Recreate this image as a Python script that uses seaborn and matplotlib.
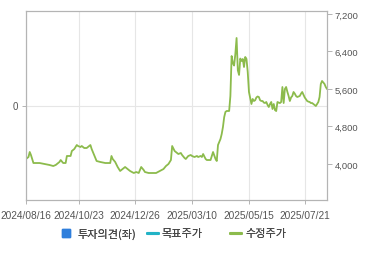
import matplotlib
matplotlib.use("Agg")
import matplotlib.pyplot as plt
import seaborn as sns
import pandas as pd
from matplotlib.patches import Patch
from matplotlib.lines import Line2D

# ---- data ----
tick_days = [0, 43, 88, 134, 180, 225]
tick_labels = ["2024/08/16", "2024/10/23", "2024/12/26", "2025/03/10", "2025/05/15", "2025/07/21"]
price_ticks = [4000, 4800, 5600, 6400, 7200]
legend_labels = ["투자의견(좌)", "목표주가", "수정주가"]

day = [0, 2, 3, 4, 6, 8, 11, 15, 19, 22, 24, 27, 28, 30, 32, 33, 36, 37, 39, 41,
       42, 44, 45, 47, 49, 50, 52, 53, 55, 57, 60, 64, 68, 69, 70, 72, 74, 76, 78, 80,
       82, 84, 87, 89, 91, 93, 95, 96, 99, 102, 105, 108, 111, 113, 115, 117, 118, 120, 121, 123,
       125, 126, 128, 129, 131, 133, 134, 136, 138, 139, 141, 142, 143, 145, 146, 149, 150, 151, 153, 154,
       155, 156, 157, 158, 159, 160, 161, 162, 163, 164, 165, 166, 167, 168, 169, 170, 171, 172, 173, 174,
       175, 176, 177, 178, 179, 180, 181, 182, 183, 184, 185, 186, 187, 188, 189, 190, 191, 192, 193, 194,
       195, 196, 197, 198, 199, 200, 201, 202, 203, 204, 205, 206, 207, 208, 209, 210, 211, 212, 213, 214,
       215, 216, 217, 218, 219, 220, 221, 222, 223, 224, 225, 226, 227, 228, 229, 230, 231, 232, 233, 234,
       235, 236, 237, 238, 239, 240, 241, 242, 243]
price = [4107, 4149, 4256, 4192, 4021, 4021, 4021, 4000, 3979, 3957, 3979, 4043, 4085, 4021, 4021, 4171, 4171, 4277, 4320, 4405,
         4384, 4363, 4384, 4341, 4341, 4363, 4405, 4320, 4192, 4064, 4043, 4021, 4021, 4171, 4107, 4043, 3936, 3851, 3893, 3936,
         3893, 3851, 3808, 3829, 3808, 3936, 3872, 3829, 3808, 3808, 3808, 3851, 3893, 3957, 4000, 4085, 4384, 4277, 4256, 4213,
         4235, 4192, 4128, 4107, 4171, 4192, 4171, 4149, 4171, 4149, 4171, 4149, 4213, 4107, 4085, 4085, 4171, 4256, 4107, 4064,
         4405, 4470, 4533, 4640, 4790, 5000, 5110, 5131, 5131, 5131, 5450, 6304, 6150, 6100, 6347, 6688, 6000, 5900, 6250, 6197,
         6240, 6069, 6283, 6240, 5963, 5536, 5408, 5280, 5387, 5344, 5360, 5420, 5440, 5429, 5360, 5344, 5344, 5310, 5301, 5323,
         5260, 5216, 5280, 5323, 5173, 5280, 5150, 5130, 5323, 5310, 5300, 5323, 5643, 5300, 5600, 5643, 5540, 5451, 5344, 5420,
         5451, 5536, 5500, 5450, 5429, 5440, 5451, 5500, 5536, 5480, 5420, 5380, 5344, 5330, 5323, 5300, 5301, 5280, 5260, 5237,
         5280, 5323, 5429, 5707, 5771, 5740, 5707, 5643, 5600]

df = pd.DataFrame({"day": day, "price": price})

# ---- style ----
sns.set_style("white")
plt.rcParams["font.family"] = ["Liberation Sans", "Noto Sans CJK KR", "DejaVu Sans"]

GREEN = "#8cbb4c"
TEAL = "#22b3c6"
BLUE = "#2f7fdc"
GRID = "#e6e6e6"
SPINE = "#b4b4b4"
TXT = "#555555"

fig = plt.figure(figsize=(3.7, 2.55), dpi=100)
ax = fig.add_axes([26 / 370, 1 - 201 / 255, (327 - 26) / 370, (201 - 12) / 255])
ax2 = ax.twinx()

# left axis (투자의견)
ax.set_ylim(-1, 1)
ax.set_yticks([0])
ax.set_yticklabels(["0"])
ax.set_xlim(0, 243)
ax.set_xticks(tick_days)
ax.set_xticklabels(tick_labels)
ax.grid(True, color=GRID, linewidth=0.8)
ax.set_axisbelow(True)

sns.lineplot(data=df, x="day", y="price", ax=ax2, color=GREEN, linewidth=1.3)
ax2.set_xlim(0, 243)
ax2.set_ylim(3232, 7264)
ax2.set_yticks(price_ticks)
ax2.set_yticklabels([f"{v:,}" for v in price_ticks])
ax2.set_xlabel("")
ax2.set_ylabel("")
ax.set_xlabel("")
ax.set_ylabel("")

for a in (ax, ax2):
    for s in a.spines.values():
        s.set_color(SPINE)
        s.set_linewidth(0.8)
        s.set_visible(True)

ax.tick_params(axis="x", length=3, width=0.7, color=SPINE, pad=4,
               labelsize=7.3, labelcolor=TXT, bottom=True)
ax.tick_params(axis="y", length=3, width=0.7, color=SPINE, pad=3,
               labelsize=7.0, labelcolor=TXT, left=True)
ax2.tick_params(axis="y", length=3.5, width=0.7, color=SPINE, pad=2,
                labelsize=6.8, labelcolor=TXT, right=True)

# legend, three items
kor = ["Noto Sans CJK KR", "DejaVu Sans"]
items = [
    (Patch(facecolor=BLUE, edgecolor=BLUE), legend_labels[0], 62, 0.75, 0.62),
    (Line2D([], [], color=TEAL, linewidth=2.2), legend_labels[1], 147, 0.95, 0.35),
    (Line2D([], [], color=GREEN, linewidth=2.2), legend_labels[2], 230, 0.95, 0.45),
]
for handle, label, x0, hl, tp in items:
    lg = fig.legend([handle], [label], loc="center left",
                    bbox_to_anchor=(x0 / 370, 1 - 234.5 / 255),
                    frameon=False, borderpad=0, borderaxespad=0,
                    handlelength=hl, handleheight=0.75, handletextpad=tp,
                    prop={"family": kor, "size": 8.0})
    for t in lg.get_texts():
        t.set_color("#444444")
    fig.add_artist(lg)

fig.savefig("out.png", dpi=100)
